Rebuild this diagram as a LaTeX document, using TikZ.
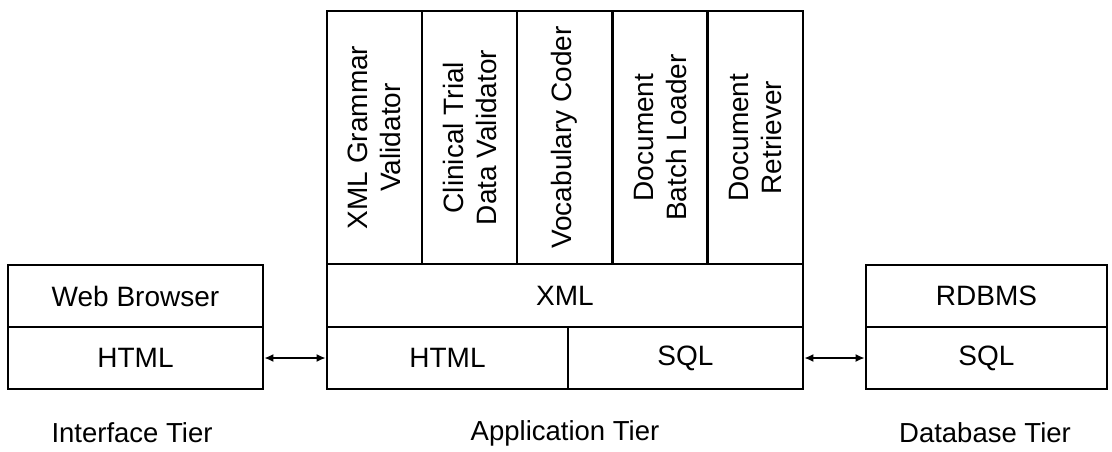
\documentclass[tikz,border=0pt]{standalone}
\usepackage{fontspec}
\setmainfont{Liberation Sans}
\usetikzlibrary{positioning,arrows.meta}

\begin{document}
\begin{tikzpicture}[x=1pt, y=-1pt,
  tierbox/.style={draw, line width=2.6pt, inner sep=0pt, font=\fontsize{28}{33}\selectfont, align=center},
  modbox/.style={tierbox, rotate=90, minimum width=253pt, minimum height=95pt},
  link/.style={line width=2.2pt, {Latex[length=9pt,width=8pt]}-{Latex[length=9pt,width=8pt]}},
  lbl/.style={font=\fontsize{27.5}{33}\selectfont}]
\useasboundingbox (0,0) rectangle (1112,451);
% interface tier
\node[tierbox, minimum width=255pt, minimum height=62pt] (web) at (135.5,296) {Web Browser};
\node[tierbox, minimum width=255pt, minimum height=62pt] (ihtml) at (135.5,358) {HTML};
% application tier
\foreach \n/\x/\t in {m1/374.5/{XML Grammar\\Validator}, m2/469.5/{Clinical Trial\\Data Validator}, m3/564.5/{Vocabulary Coder}, m4/660/{Document\\Batch Loader}, m5/755.5/{Document\\Retriever}}
  {\node[modbox] (\n) at (\x,137.5) {\t};}
\node[tierbox, minimum width=476pt, minimum height=63pt] (xml) at (565,295.5) {XML};
\node[tierbox, minimum width=241pt, minimum height=62pt] (ahtml) at (447.5,358) {HTML};
\node[tierbox, minimum width=235pt, minimum height=62pt] (asql) at (685.5,358) {SQL};
% database tier
\node[tierbox, minimum width=241pt, minimum height=62pt] (rdbms) at (986.5,296) {RDBMS};
\node[tierbox, minimum width=241pt, minimum height=62pt] (dsql) at (986.5,358) {SQL};
\draw[link] (ihtml.east) -- (ahtml.west);
\draw[link] (asql.east) -- (dsql.west);
% tier names
\node[lbl] (itier) at (132,433) {Interface Tier};
\node[lbl] (atier) at (565,433) {Application Tier};
\node[lbl] (dtier) at (985,433) {Database Tier};
\end{tikzpicture}
\end{document}
